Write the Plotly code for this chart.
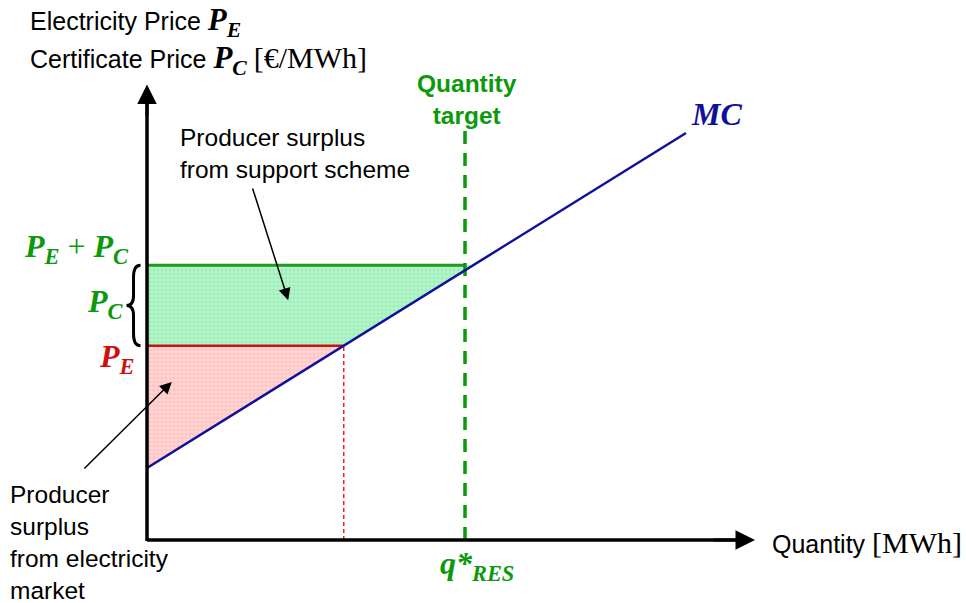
import plotly.graph_objects as go

# ---------------- data (economic units) ----------------
mc_q = [0.0, 10.0]          # quantity at the ends of the MC line
mc_p = [2.15, 12.15]        # marginal cost at those quantities
price_E = 5.8               # electricity price P_E
price_total = 8.2           # P_E + P_C
q_E = 3.65                  # quantity where MC = P_E
q_target = 5.9              # quantity target q*_RES
q_total_mc = 6.05           # quantity where MC = P_E + P_C
axis_x_end = 11.28
axis_y_end = 13.6
target_top = 12.24

# pixel <-> data mapping for this 966x603 canvas
X0, XS = 147.0, 53.9
Y0, YS = 540.0, 33.5
W, H = 966, 603
xr = [-X0 / XS, (W - X0) / XS]
yr = [-(H - Y0) / YS, Y0 / YS]

def px(x, y):
    return x / W, 1 - y / H

GREEN = "#0c990c"
RED = "#cc1111"
BLUE = "#10109a"
SANS = "Liberation Sans, Arial, sans-serif"
SERIF = "Liberation Serif"

fig = go.Figure()

# green area: producer surplus from support scheme
fig.add_trace(go.Scatter(
    x=[0, 0, q_total_mc, q_E, 0], y=[price_E, price_total, price_total, price_E, price_E],
    mode="lines", line=dict(width=0), fill="toself",
    fillcolor="#b6f5cb",
    fillpattern=dict(shape="+", size=4, solidity=0.3, fgcolor="#55dd86", bgcolor="#b9f6cd"),
    hoverinfo="skip"))
# red area: producer surplus from electricity market
fig.add_trace(go.Scatter(
    x=[0, 0, q_E, 0], y=[mc_p[0], price_E, price_E, mc_p[0]],
    mode="lines", line=dict(width=0), fill="toself",
    fillcolor="#ffd0d0",
    fillpattern=dict(shape="+", size=4, solidity=0.3, fgcolor="#ff9494", bgcolor="#ffd8d8"),
    hoverinfo="skip"))

# P_E + P_C horizontal line
fig.add_trace(go.Scatter(x=[0, q_target], y=[price_total, price_total], mode="lines",
                         line=dict(color="#1f9a1f", width=3), hoverinfo="skip"))
# P_E horizontal line
fig.add_trace(go.Scatter(x=[0, q_E], y=[price_E, price_E], mode="lines",
                         line=dict(color=RED, width=2.5), hoverinfo="skip"))
# red dashed drop line
fig.add_trace(go.Scatter(x=[q_E, q_E], y=[0, price_E], mode="lines",
                         line=dict(color="#ff1a1a", width=1.5, dash="4px,3px"), hoverinfo="skip"))
# quantity target dashed line
fig.add_trace(go.Scatter(x=[q_target, q_target], y=[0, target_top], mode="lines",
                         line=dict(color="#0a9a0a", width=3.5, dash="13px,9px"), hoverinfo="skip"))
# MC line
fig.add_trace(go.Scatter(x=mc_q, y=mc_p, mode="lines",
                         line=dict(color=BLUE, width=2.5), hoverinfo="skip"))
# axes
fig.add_trace(go.Scatter(x=[0, 0], y=[-0.03, axis_y_end - 0.3], mode="lines",
                         line=dict(color="black", width=3.5), hoverinfo="skip"))
fig.add_trace(go.Scatter(x=[0, axis_x_end - 0.2], y=[0, 0], mode="lines",
                         line=dict(color="black", width=3.5), hoverinfo="skip"))

ann = []
# axis arrowheads
ann.append(dict(x=0, y=axis_y_end, ax=0, ay=axis_y_end - 1.0, xref="x", yref="y",
                axref="x", ayref="y", text="", showarrow=True, arrowhead=2,
                arrowsize=1.3, arrowwidth=3, arrowcolor="black"))
ann.append(dict(x=axis_x_end, y=0, ax=axis_x_end - 0.8, ay=0, xref="x", yref="y",
                axref="x", ayref="y", text="", showarrow=True, arrowhead=2,
                arrowsize=1.3, arrowwidth=3, arrowcolor="black"))
# pointer arrows
ann.append(dict(x=2.62, y=7.16, ax=1.95, ay=10.54, xref="x", yref="y",
                axref="x", ayref="y", text="", showarrow=True, arrowhead=2,
                arrowsize=1.6, arrowwidth=1.5, arrowcolor="black"))
ann.append(dict(x=0.46, y=4.72, ax=-1.19, ay=2.09, xref="x", yref="y",
                axref="x", ayref="y", text="", showarrow=True, arrowhead=2,
                arrowsize=1.6, arrowwidth=1.5, arrowcolor="black"))

def text(x, y, t, size, color="black", xanchor="left", yanchor="middle", align="left"):
    ax_, ay_ = px(x, y)
    ann.append(dict(x=ax_, y=ay_, xref="paper", yref="paper", text=t, showarrow=False,
                    xanchor=xanchor, yanchor=yanchor, align=align,
                    font=dict(family=SANS, size=size, color=color)))

def ser(s, size):
    return f'<span style="font-family:{SERIF};font-size:{size}px">{s}</span>'

text(28, 22, "Electricity Price " + ser("<b><i>P<sub>E</sub></i></b>", 31), 25)
text(28, 60, "Certificate Price " + ser("<b><i>P<sub>C</sub></i></b>", 31) + " " + ser("[€/MWh]", 30), 25)
text(178, 153, "Producer surplus<br>from support scheme", 24.5)
text(467, 99, "<b>Quantity<br>target</b>", 24.5, GREEN, xanchor="center", align="center")
text(716, 114, ser("<b><i>MC</i></b>", 32), 32, BLUE, xanchor="center")
text(76, 248, ser("<b><i>P<sub>E</sub></i></b> + <b><i>P<sub>C</sub></i></b>", 32), 32, GREEN, xanchor="center")
text(105, 303, ser("<b><i>P<sub>C</sub></i></b>", 32), 32, GREEN, xanchor="center")
text(116, 358, ser("<b><i>P<sub>E</sub></i></b>", 32), 32, RED, xanchor="center")
text(8, 542, "Producer<br>surplus<br>from electricity<br>market", 24.5, yanchor="middle")
text(770, 542, "Quantity " + ser("[MWh]", 30), 25)
text(477, 565, ser("<b><i>q*<sub>RES</sub></i></b>", 32), 32, GREEN, xanchor="center")

# curly brace between P_E and P_E+P_C
bx = -0.25
top, bot = price_total, price_E
mid = (top + bot) / 2
d = 0.13
path = (f"M {bx+d},{top} Q {bx},{top} {bx},{top-0.35} L {bx},{mid+0.3} "
        f"Q {bx},{mid} {bx-d},{mid} Q {bx},{mid} {bx},{mid-0.3} L {bx},{bot+0.35} "
        f"Q {bx},{bot} {bx+d},{bot}")

fig.update_layout(
    width=W, height=H, margin=dict(l=0, r=0, t=0, b=0),
    paper_bgcolor="white", plot_bgcolor="white", showlegend=False,
    xaxis=dict(range=xr, visible=False, fixedrange=True),
    yaxis=dict(range=yr, visible=False, fixedrange=True),
    annotations=ann,
    shapes=[dict(type="path", path=path, xref="x", yref="y",
                 line=dict(color="black", width=3))],
)

fig.write_html("out.html")
